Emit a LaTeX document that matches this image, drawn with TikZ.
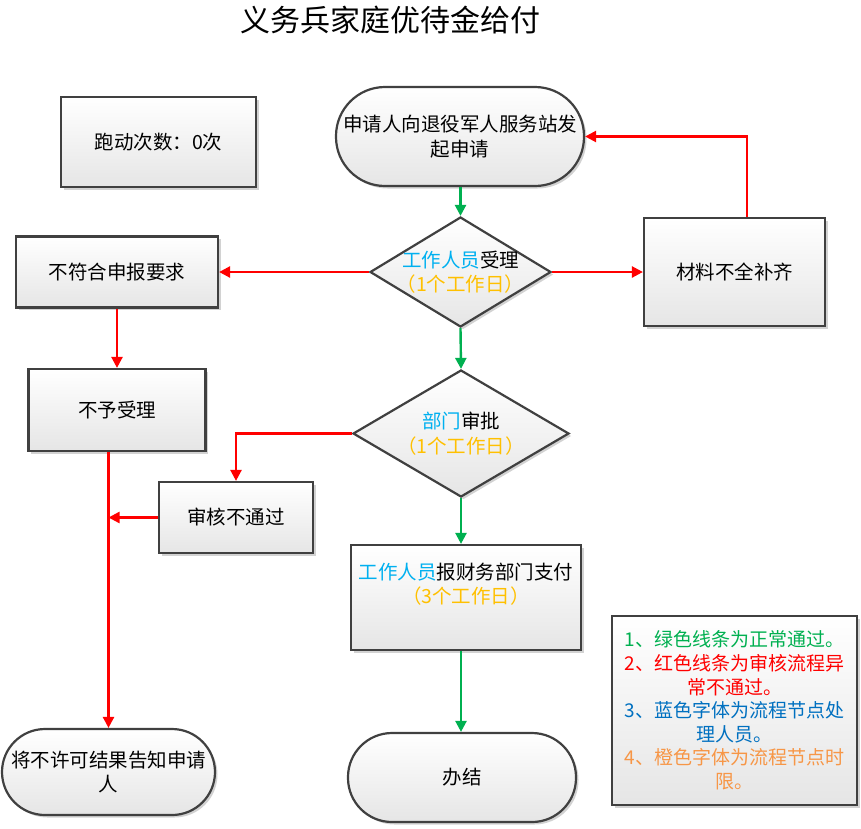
\documentclass[tikz,border=0pt]{standalone}
\usepackage{fontspec}
\setmainfont{Noto Sans CJK SC}
\usetikzlibrary{shapes.geometric,arrows.meta,shadows}
\definecolor{bd}{HTML}{404040}
\definecolor{gln}{HTML}{00B050}
\definecolor{rln}{HTML}{FF0000}
\definecolor{nblue}{HTML}{00B0F0}
\definecolor{norg}{HTML}{FFC000}
\definecolor{lblue}{HTML}{0070C0}
\definecolor{lorg}{HTML}{F79646}
\begin{document}
\begin{tikzpicture}[x=1pt,y=-1pt,
  base/.style={draw=bd, line width=2.2pt, top color=white, bottom color=black!10,
    drop shadow={shadow xshift=2.5pt,shadow yshift=-2.5pt,fill=black!35,opacity=0.5},
    font=\fontsize{19.5}{24.5}\selectfont, align=center, inner sep=0pt},
  rbox/.style={base, rectangle},
  stad/.style={base, rectangle, rounded corners=#1},
  dia/.style={base, diamond},
  lbl/.style={font=\fontsize{19.5}{24.5}\selectfont, align=center, inner sep=0pt},
  conn/.style={line width=2.4pt, -{Triangle[length=11pt,width=11pt]}},
  gA/.style={conn, draw=gln},
  rA/.style={conn, draw=rln},
]
\useasboundingbox (0,0) rectangle (861,828);

\node[font=\fontsize{30}{34}\selectfont] (title) at (390,20) {义务兵家庭优待金给付};

\node[rbox, minimum width=195, minimum height=90] (cnt) at (158.5,142) {跑动次数：0次};

\node[stad=49pt, minimum width=248, minimum height=99] (s) at (460,136.5)
  {申请人向退役军人服务站发\\起申请};

\node[dia, minimum width=181, minimum height=110] (d1) at (460.5,272) {};
\node[lbl] (d1t) at (d1) {\textcolor{nblue}{工作人员}受理\\\textcolor{norg}{（1个工作日）}};

\node[rbox, minimum width=181, minimum height=108] (mat) at (734.5,272) {材料不全补齐};

\node[rbox, minimum width=202, minimum height=71] (no1) at (117,272) {不符合申报要求};

\node[rbox, minimum width=177, minimum height=82] (no2) at (117,410) {不予受理};

\node[dia, minimum width=216, minimum height=127] (d2) at (461,433.5) {};
\node[lbl] (d2t) at (d2) {\textcolor{nblue}{部门}审批\\\textcolor{norg}{（1个工作日）}};

\node[rbox, minimum width=154, minimum height=71] (rej) at (236,517.5) {审核不通过};

\node[rbox, minimum width=230, minimum height=105] (pay) at (466,597.5) {};
\node[lbl] (payt) at (466,584) {\textcolor{nblue}{工作人员}报财务部门支付\\\textcolor{norg}{（3个工作日）}};

\node[stad=43pt, minimum width=213, minimum height=86] (fin) at (108.5,772)
  {将不许可结果告知申请\\人};

\node[stad=44pt, minimum width=228, minimum height=89] (done) at (462,777.5) {办结};

\node[rbox, minimum width=245, minimum height=189] (leg) at (734.5,710.5) {};
\node[lbl, font=\fontsize{19}{23.6}\selectfont] (legt) at (leg) {%
  \textcolor{gln}{1、绿色线条为正常通过。}\\
  \textcolor{rln}{2、红色线条为审核流程异}\\
  \textcolor{rln}{常不通过。}\\
  \textcolor{lblue}{3、蓝色字体为流程节点处}\\
  \textcolor{lblue}{理人员。}\\
  \textcolor{lorg}{4、橙色字体为流程节点时}\\
  \textcolor{lorg}{限。}};

% green flow
\draw[gA] (s.south -| d1.north) -- (d1.north);
\draw[gA] (d1.south) -- (d2.north);
\draw[gA] (d2.south) -- (d2.south |- pay.north);
\draw[gA] (pay.south -| d2.south) -- (done.north -| d2.south);

% red flow
\draw[rA] (d1.west) -- (no1.east);
\draw[rA] (d1.east) -- (mat.west);
\draw[rA] ([xshift=12.5pt]mat.north) |- (s.east);
\draw[rA] (no1.south) -- (no2.north);
\draw[rA] (no2.south -| fin.north) -- (fin.north);
\draw[rA] (d2.west) -| (rej.north);
\draw[rA] (rej.west) -- (rej.west -| fin.north);
\end{tikzpicture}
\end{document}
